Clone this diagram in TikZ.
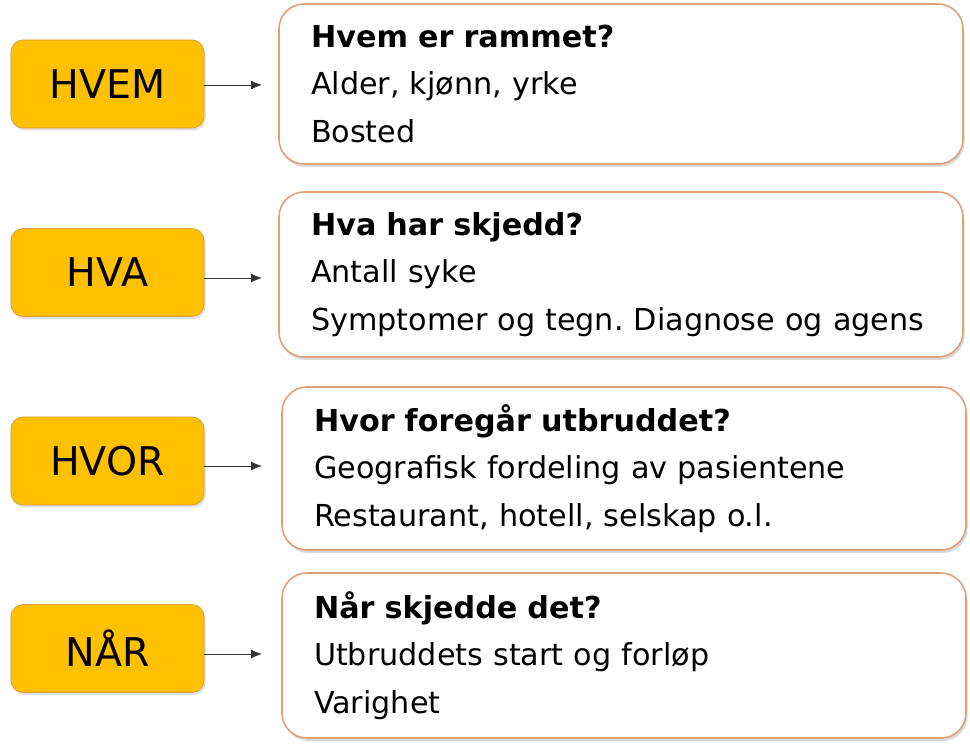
\documentclass[tikz,border=0pt]{standalone}
\usepackage{fontspec}
\setmainfont{DejaVu Sans}
\usetikzlibrary{shapes}
\usetikzlibrary{positioning}
\usetikzlibrary{arrows.meta}
\usetikzlibrary{shadows}
\definecolor{qorange}{HTML}{FFC000}
\definecolor{qorangeedge}{HTML}{D99A3C}
\definecolor{qpeach}{HTML}{E2A07A}
\tikzset{
    keybox/.style = {rectangle, rounded corners=0.24cm, draw=qorangeedge, thin, fill=qorange,
                     minimum width=3.86cm, minimum height=1.76cm, font=\fontsize{22.5}{26}\selectfont,
                     drop shadow={opacity=0.25, shadow xshift=0.03cm, shadow yshift=-0.05cm}},
    infobox/.style = {rectangle, rounded corners=0.5cm, draw=qpeach, line width=0.9pt, fill=white,
                      minimum width=13.68cm, inner xsep=0.64cm, text width=12.4cm, align=left,
                      font=\fontsize{17.2}{27}\selectfont,
                      drop shadow={opacity=0.3, shadow xshift=0.03cm, shadow yshift=-0.06cm}},
    edgen/.style = {-{Latex[length=2.2mm,width=1.8mm]}, draw=black!80, line width=0.5pt}
}
\begin{document}
\frenchspacing
\begin{tikzpicture}
  \useasboundingbox (0,0) rectangle (19.4,15.02);

  \node[keybox] (hvem) at (2.15,13.34) {HVEM};
  \node[keybox] (hva)  at (2.15,9.57)  {HVA};
  \node[keybox] (hvor) at (2.15,5.80)  {HVOR};
  \node[keybox] (naar) at (2.15,2.05)  {NÅR};

  \node[infobox, minimum height=3.2cm] (bhvem) at (12.42,13.34)
    {\textbf{Hvem er rammet?}\\Alder, kjønn, yrke\\Bosted};
  \node[infobox, minimum height=3.3cm] (bhva) at (12.42,9.53)
    {\textbf{Hva har skjedd?}\\Antall syke\\Symptomer og tegn. Diagnose og agens};
  \node[infobox, minimum height=3.26cm] (bhvor) at (12.48,5.65)
    {\textbf{Hvor foregår utbruddet?}\\Geografisk fordeling av pasientene\\Restaurant, hotell, selskap o.l.};
  \node[infobox, minimum height=3.3cm] (bnaar) at (12.48,1.91)
    {\textbf{Når skjedde det?}\\Utbruddets start og forløp\\Varighet};

  \coordinate (thvem) at (5.24,13.32);
  \coordinate (thva)  at (5.24,9.46);
  \coordinate (thvor) at (5.24,5.70);
  \coordinate (tnaar) at (5.24,1.94);

  \draw[edgen] (hvem.east |- thvem) -- (thvem);
  \draw[edgen] (hva.east |- thva) -- (thva);
  \draw[edgen] (hvor.east |- thvor) -- (thvor);
  \draw[edgen] (naar.east |- tnaar) -- (tnaar);
\end{tikzpicture}
\end{document}
